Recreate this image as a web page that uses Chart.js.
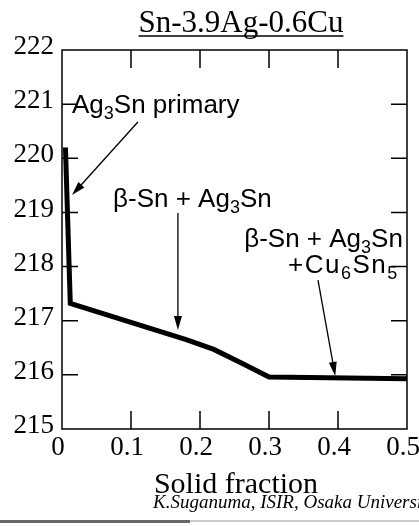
<!DOCTYPE html>
<html>
<head>
<meta charset="utf-8">
<script src="https://cdn.jsdelivr.net/npm/chart.js@4.4.0/dist/chart.umd.min.js"></script>
<style>
  html, body { margin: 0; padding: 0; background: #fff; }
</style>
</head>
<body>
<canvas id="cooling" width="419" height="526"></canvas>
<script>
// solidification path
var solidFraction = [0.005, 0.012, 0.1, 0.18, 0.22, 0.26, 0.3, 0.5];
var temperature = [220.2, 217.32, 216.97, 216.65, 216.47, 216.22, 215.96, 215.93];
var xTicks = [0, 0.1, 0.2, 0.3, 0.4, 0.5];
var yTicks = [215, 216, 217, 218, 219, 220, 221, 222];

var serif = "'Liberation Serif', 'Times New Roman', serif";
var sans = "'Liberation Sans', Arial, sans-serif";

// text with subscripts: parts = [[text, isSub], ...]
function richText(ctx, parts, x, y, size, align, spacing) {
  var subSize = Math.round(size * 0.7);
  ctx.letterSpacing = (spacing || 0) + "px";
  var w = 0;
  parts.forEach(function (p) {
    ctx.font = (p[1] ? subSize : size) + "px " + sans;
    w += ctx.measureText(p[0]).width;
  });
  var cx = align === "right" ? x - w : x;
  ctx.textAlign = "left";
  ctx.textBaseline = "alphabetic";
  parts.forEach(function (p) {
    ctx.font = (p[1] ? subSize : size) + "px " + sans;
    ctx.fillText(p[0], cx, p[1] ? y + size * 0.22 : y);
    cx += ctx.measureText(p[0]).width;
  });
  ctx.letterSpacing = "0px";
}

function arrow(ctx, x1, y1, x2, y2) {
  var a = Math.atan2(y2 - y1, x2 - x1);
  var len = 14, half = 4;
  ctx.beginPath();
  ctx.moveTo(x1, y1);
  ctx.lineTo(x2 - Math.cos(a) * len * 0.8, y2 - Math.sin(a) * len * 0.8);
  ctx.lineWidth = 1.3;
  ctx.stroke();
  ctx.beginPath();
  ctx.moveTo(x2, y2);
  ctx.lineTo(x2 - Math.cos(a) * len - Math.sin(a) * half, y2 - Math.sin(a) * len + Math.cos(a) * half);
  ctx.lineTo(x2 - Math.cos(a) * len + Math.sin(a) * half, y2 - Math.sin(a) * len - Math.cos(a) * half);
  ctx.closePath();
  ctx.fill();
}

var decor = {
  id: "decor",
  afterDraw: function (chart) {
    var ctx = chart.ctx, ca = chart.chartArea;
    var xs = chart.scales.x, ys = chart.scales.y;
    ctx.save();
    ctx.strokeStyle = "#000";
    ctx.fillStyle = "#000";

    // frame
    ctx.lineWidth = 1.5;
    ctx.strokeRect(ca.left, ca.top, ca.right - ca.left, ca.bottom - ca.top);

    // inward tick marks
    ctx.beginPath();
    xTicks.slice(1, -1).forEach(function (v) {
      var px = xs.getPixelForValue(v);
      ctx.moveTo(px, ca.bottom); ctx.lineTo(px, ca.bottom - 18);
      ctx.moveTo(px, ca.top); ctx.lineTo(px, ca.top + 18);
    });
    yTicks.slice(1, -1).forEach(function (v) {
      var py = ys.getPixelForValue(v);
      ctx.moveTo(ca.left, py); ctx.lineTo(ca.left + 16, py);
      ctx.moveTo(ca.right, py); ctx.lineTo(ca.right - 16, py);
    });
    ctx.stroke();

    // title, underlined
    ctx.font = "31px " + serif;
    ctx.textAlign = "center";
    ctx.textBaseline = "alphabetic";
    var title = "Sn-3.9Ag-0.6Cu";
    ctx.fillText(title, 241, 32);
    var tw = ctx.measureText(title).width;
    ctx.lineWidth = 1.5;
    ctx.beginPath();
    ctx.moveTo(241 - tw / 2, 36); ctx.lineTo(241 + tw / 2, 36);
    ctx.stroke();

    // axis title and credit
    ctx.font = "30px " + serif;
    ctx.fillText("Solid fraction", 236, 493);
    ctx.font = "italic 19px " + serif;
    ctx.textAlign = "left";
    ctx.fillText("K.Suganuma, ISIR, Osaka University", 153, 508);

    // scan edge at the bottom
    ctx.fillStyle = "#666";
    ctx.fillRect(0, 520, 190, 3);
    ctx.fillStyle = "#ccc";
    ctx.fillRect(190, 520, 229, 2);
    ctx.fillStyle = "#000";

    // annotations (data units)
    function P(x, y) { return [xs.getPixelForValue(x), ys.getPixelForValue(y)]; }
    var t1 = P(0.0145, 220.84);
    richText(ctx, [["Ag", 0], ["3", 1], ["Sn primary", 0]], t1[0], t1[1], 26, "left");
    var a1 = P(0.110, 220.67), b1 = P(0.0145, 219.32);
    arrow(ctx, a1[0], a1[1], b1[0], b1[1]);

    var t2 = P(0.074, 219.1);
    richText(ctx, [["\u03b2-Sn + Ag", 0], ["3", 1], ["Sn", 0]], t2[0], t2[1], 26, "left");
    var a2 = P(0.168, 218.99), b2 = P(0.168, 216.83);
    arrow(ctx, a2[0], a2[1], b2[0], b2[1]);

    var t3 = P(0.494, 218.36);
    richText(ctx, [["\u03b2-Sn + Ag", 0], ["3", 1], ["Sn", 0]], t3[0], t3[1], 26, "right");
    var t4 = P(0.488, 217.88);
    richText(ctx, [["+Cu", 0], ["6", 1], ["Sn", 0], ["5", 1]], t4[0], t4[1], 26, "right", 1.5);
    var a3 = P(0.371, 217.75), b3 = P(0.396, 215.98);
    arrow(ctx, a3[0], a3[1], b3[0], b3[1]);

    ctx.restore();
  }
};

var ctx = document.getElementById("cooling").getContext("2d");
var chart = new Chart(ctx, {
  type: "line",
  data: {
    datasets: [
      {
        label: "Sn-3.9Ag-0.6Cu",
        data: solidFraction.map(function (x, i) { return { x: x, y: temperature[i] }; }),
        borderColor: "#000",
        borderWidth: 5,
        borderJoinStyle: "miter",
        pointRadius: 0,
        tension: 0,
        fill: false
      }
    ]
  },
  options: {
    responsive: false,
    animation: false,
    layout: { padding: { top: 50, right: 12, left: 0, bottom: 0 } },
    plugins: {
      legend: { display: false },
      tooltip: { enabled: false }
    },
    scales: {
      x: {
        type: "linear",
        min: 0,
        max: 0.5,
        afterFit: function (s) { s.height = 97; s.paddingLeft = 0; s.paddingRight = 0; },
        afterBuildTicks: function (s) { s.ticks = xTicks.map(function (v) { return { value: v }; }); },
        grid: { display: false },
        border: { display: false },
        ticks: {
          padding: -5,
          labelOffset: -4,
          color: "#000",
          font: { family: serif, size: 27 },
          callback: function (v) { return String(+v.toFixed(1)); }
        }
      },
      y: {
        min: 215,
        max: 222,
        afterFit: function (s) { s.width = 62; s.paddingTop = 0; s.paddingBottom = 0; },
        afterBuildTicks: function (s) { s.ticks = yTicks.map(function (v) { return { value: v }; }); },
        grid: { display: false },
        border: { display: false },
        ticks: {
          padding: 0,
          labelOffset: -3,
          color: "#000",
          font: { family: serif, size: 27 }
        }
      }
    }
  },
  plugins: [decor]
});
</script>
</body>
</html>
